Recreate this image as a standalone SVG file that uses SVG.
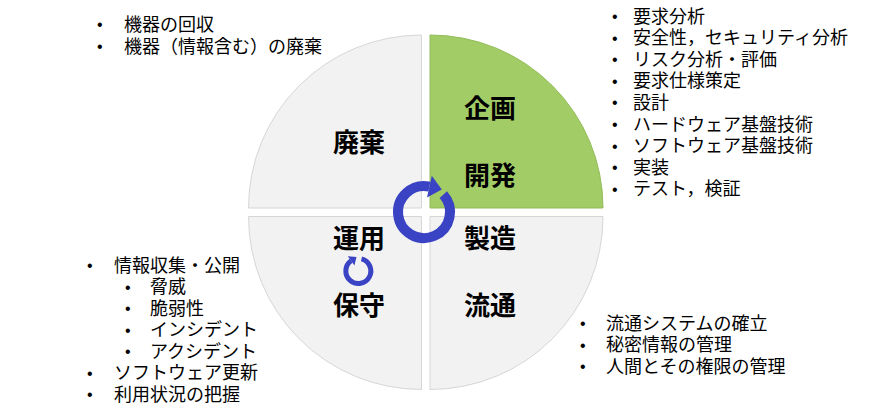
<svg xmlns="http://www.w3.org/2000/svg" width="876" height="417" viewBox="0 0 876 417">
  <defs>
    <style>
      .q { fill: #f2f2f2; stroke: #d6d6d6; stroke-width: 1; }
      .qg { fill: #a2cc66; stroke: #92bb58; stroke-width: 1; }
      .lbl { font-family: "Noto Sans CJK JP", "Noto Sans", sans-serif; font-size: 26px; font-weight: 700; fill: #000; text-anchor: middle; }
      .li { font-family: "Liberation Sans", "Noto Sans CJK JP", sans-serif; font-size: 18px; fill: #000; }
      .bu { font-family: "Liberation Sans", "Noto Sans", sans-serif; font-size: 16px; }
      .ring { fill: none; stroke: #3a43c4; }
      .head { fill: #3a43c4; }
    </style>
  </defs>
  <rect width="876" height="417" fill="#ffffff"/>

  <g id="haiki">
    <path class="q" d="M421.5,208 L248.5,208 A173,173 0 0 1 421.5,35 Z"/>
    <text class="lbl" x="359" y="152">廃棄</text>
  </g>
  <g id="kikaku-kaihatsu">
    <path class="qg" d="M430,208 L430,35 A173,173 0 0 1 603,208 Z"/>
    <text class="lbl" x="490" y="118">企画</text>
    <text class="lbl" x="490" y="185">開発</text>
  </g>
  <g id="unyo-hoshu">
    <path class="q" d="M421.5,216.5 L421.5,389.5 A173,173 0 0 1 248.5,216.5 Z"/>
    <text class="lbl" x="359" y="248">運用</text>
    <text class="lbl" x="359" y="315">保守</text>
  </g>
  <g id="seizo-ryutsu">
    <path class="q" d="M430,216.5 L603,216.5 A173,173 0 0 1 430,389.5 Z"/>
    <text class="lbl" x="490" y="248">製造</text>
    <text class="lbl" x="490" y="315">流通</text>
  </g>

  <g id="connectors">
    <g id="cycle-main">
      <path class="ring" stroke-width="10" d="M443.3,194.6 A26,26 0 1 1 429.4,186.6"/>
      <polygon class="head" points="431.8,175.8 441.8,189.5 427,197.4"/>
    </g>
    <g id="cycle-small">
      <path class="ring" stroke-width="5" d="M361.5,258.9 A12.5,12.5 0 1 1 351.1,260.8"/>
      <polygon class="head" points="347.8,256.2 356.5,257 354.4,265.4"/>
    </g>
  </g>

  <g id="list-haiki">
    <text class="li"><tspan class="bu" x="97" y="30">•</tspan><tspan x="124" y="30.5">機器の回収</tspan><tspan class="bu" x="97" y="52">•</tspan><tspan x="124" y="52.5">機器（情報含む）の廃棄</tspan></text>
  </g>

  <g id="list-kikaku">
    <text class="li"><tspan class="bu" x="612" y="22">•</tspan><tspan x="633" y="22.5">要求分析</tspan><tspan class="bu" x="612" y="43.6">•</tspan><tspan x="633" y="44.1">安全性，セキュリティ分析</tspan><tspan class="bu" x="612" y="65.2">•</tspan><tspan x="633" y="65.7">リスク分析・評価</tspan><tspan class="bu" x="612" y="86.8">•</tspan><tspan x="633" y="87.3">要求仕様策定</tspan><tspan class="bu" x="612" y="108.4">•</tspan><tspan x="633" y="108.9">設計</tspan><tspan class="bu" x="612" y="130">•</tspan><tspan x="633" y="130.5">ハードウェア基盤技術</tspan><tspan class="bu" x="612" y="151.6">•</tspan><tspan x="633" y="152.1">ソフトウェア基盤技術</tspan><tspan class="bu" x="612" y="173.2">•</tspan><tspan x="633" y="173.7">実装</tspan><tspan class="bu" x="612" y="194.8">•</tspan><tspan x="633" y="195.3">テスト，検証</tspan></text>
  </g>

  <g id="list-unyo">
    <text class="li"><tspan class="bu" x="87" y="271">•</tspan><tspan x="114" y="271.5">情報収集・公開</tspan><tspan class="bu" x="125" y="292.5">•</tspan><tspan x="150" y="293">脅威</tspan><tspan class="bu" x="125" y="314">•</tspan><tspan x="150" y="314.5">脆弱性</tspan><tspan class="bu" x="125" y="335.5">•</tspan><tspan x="150" y="336">インシデント</tspan><tspan class="bu" x="125" y="357">•</tspan><tspan x="150" y="357.5">アクシデント</tspan><tspan class="bu" x="87" y="378.5">•</tspan><tspan x="114" y="379">ソフトウェア更新</tspan><tspan class="bu" x="87" y="400">•</tspan><tspan x="114" y="400.5">利用状況の把握</tspan></text>
  </g>

  <g id="list-ryutsu">
    <text class="li"><tspan class="bu" x="580" y="329">•</tspan><tspan x="606" y="329.5">流通システムの確立</tspan><tspan class="bu" x="580" y="350.5">•</tspan><tspan x="606" y="351">秘密情報の管理</tspan><tspan class="bu" x="580" y="372">•</tspan><tspan x="606" y="372.5">人間とその権限の管理</tspan></text>
  </g>
</svg>
